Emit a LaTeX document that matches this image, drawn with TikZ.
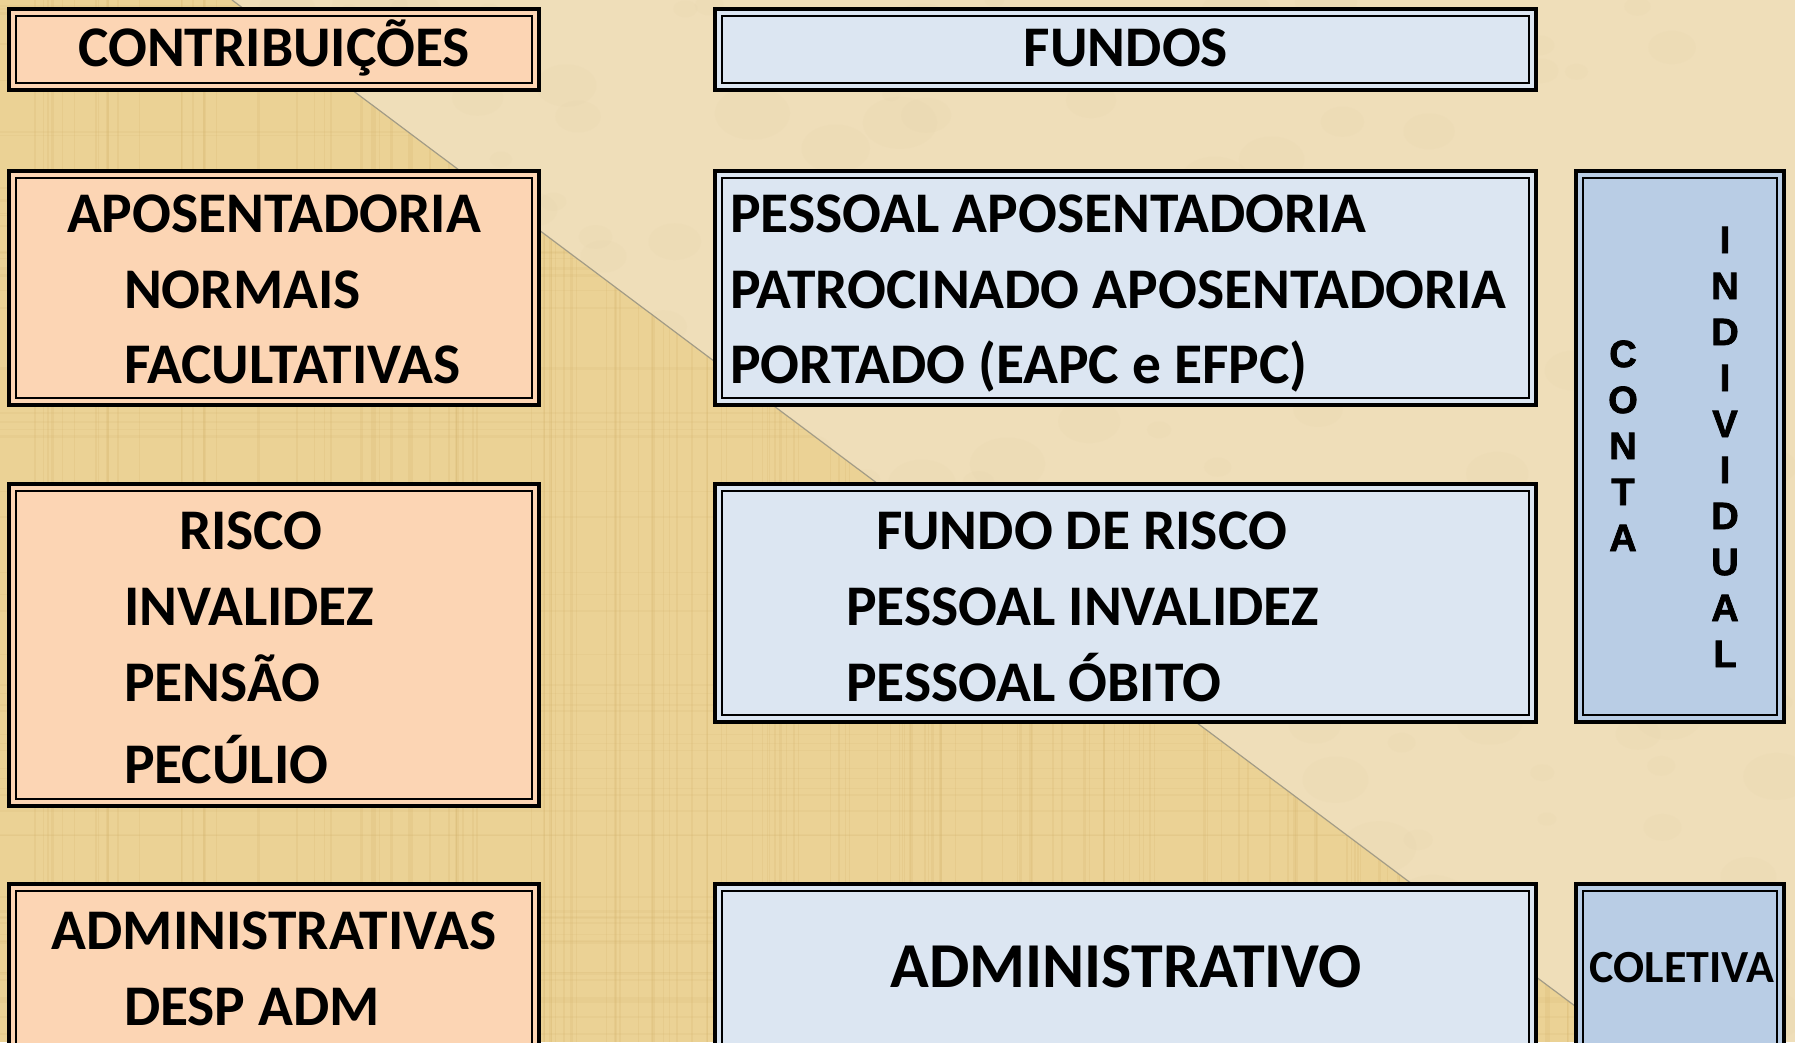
\documentclass[tikz,border=0pt]{standalone}
\usepackage{fontspec}
\setmainfont{Carlito}
\newfontfamily\arialfont{Liberation Sans}[UprightFont={* Bold}, UprightFeatures={FakeBold=2}]
\definecolor{peach}{HTML}{FCD5B4}
\definecolor{lblue}{HTML}{DCE6F2}
\definecolor{cblue}{HTML}{B9CDE5}
\definecolor{papyrus}{HTML}{EBD295}
\definecolor{papyrusdark}{HTML}{D2B26C}
\definecolor{parch}{HTML}{EFDEB9}
\definecolor{parchdark}{HTML}{D9C08F}
\definecolor{seam}{HTML}{A39C86}
\tikzset{
  boxst/.style={draw=black, line width=4pt, inner sep=0pt, outer sep=0pt},
  innerline/.style={draw=black, line width=1.8pt},
  txt/.style={font=\fontsize{57.5}{60}\selectfont\bfseries, inner sep=0pt, outer sep=0pt},
  bigtxt/.style={font=\fontsize{64}{68}\selectfont\bfseries, inner sep=0pt, outer sep=0pt},
  coltxt/.style={font=\fontsize{46}{50}\selectfont\bfseries, inner sep=0pt, outer sep=0pt},
  vtxt/.style={font=\arialfont\fontsize{38}{42}\selectfont, inner sep=0pt, outer sep=0pt, anchor=base},
}
\newcommand\mybox[6]{%
  \pgfmathsetmacro\mybw{#4-#2-4}%
  \pgfmathsetmacro\mybh{#5-#3-4}%
  \node[boxst, fill=#6, minimum width=\mybw pt, minimum height=\mybh pt] (#1) at ({(#2+#4)/2},{(#3+#5)/2}) {};
  \draw[innerline] ([xshift=7pt,yshift=-7pt]#1.north west) rectangle ([xshift=-7pt,yshift=7pt]#1.south east);
}
\begin{document}
\begin{tikzpicture}[x=1pt, y=-1pt]
\useasboundingbox (0,0) rectangle (1795,1042);
\clip (0,0) rectangle (1795,1042);
% background
\fill[parch] (0,0) rectangle (1795,1042);
\pgfmathsetseed{11}
\begin{scope}
  \clip (232,0) -- (1795,0) -- (1795,1042) -- (1623,1042) -- cycle;
  \foreach \i in {1,...,260} {
    \pgfmathsetmacro\xx{rnd*1795}
    \pgfmathsetmacro\yy{rnd*1042}
    \pgfmathsetmacro\rr{8+rnd*30}
    \fill[parchdark, opacity=0.05] (\xx,\yy) ellipse ({\rr pt} and {0.7*\rr pt});
  }
\end{scope}
\begin{scope}
  \clip (0,0) -- (232,0) -- (1623,1042) -- (0,1042) -- cycle;
  \fill[papyrus] (0,0) rectangle (1795,1042);
  \foreach \i in {1,...,160} {
    \pgfmathsetmacro\xx{rnd*1795}
    \pgfmathsetmacro\ww{0.6+rnd*2.5}
    \draw[papyrusdark, opacity=0.2, line width=\ww pt] (\xx,0) -- (\xx,1042);
  }
  \foreach \i in {1,...,60} {
    \pgfmathsetmacro\yy{rnd*1042}
    \pgfmathsetmacro\ww{0.6+rnd*2.5}
    \draw[papyrusdark, opacity=0.13, line width=\ww pt] (0,\yy) -- (1795,\yy);
  }
\end{scope}
\coordinate (seamtop) at (232,0);
\coordinate (seambot) at (1623,1042);
\draw[seam, line width=1.2pt] (seamtop) -- (seambot);

% boxes
\mybox{contrib}{7}{7}{541}{92}{peach}
\mybox{fundos}{713}{7}{1538}{92}{lblue}
\mybox{apos}{7}{169}{541}{407}{peach}
\mybox{pessoal}{713}{169}{1538}{407}{lblue}
\mybox{conta}{1574}{169}{1786}{724}{cblue}
\mybox{risco}{7}{482}{541}{808}{peach}
\mybox{fundorisco}{713}{482}{1538}{724}{lblue}
\mybox{adm}{7}{882}{541}{1070}{peach}
\mybox{administrativo}{713}{882}{1538}{1070}{lblue}
\mybox{coletiva}{1574}{882}{1786}{1070}{cblue}

% texts
\node[txt, anchor=base] (tcontrib) at (274,66) {CONTRIBUIÇÕES};
\node[txt, anchor=base] (tfundos) at (1126,66) {FUNDOS};

\node[txt, anchor=base] (ta1) at (274,232) {APOSENTADORIA};
\node[txt, anchor=base west] (ta2) at (124,308) {NORMAIS};
\node[txt, anchor=base west] (ta3) at (124,383) {FACULTATIVAS};

\node[txt, anchor=base west] (tp1) at (730,232) {PESSOAL APOSENTADORIA};
\node[txt, anchor=base west] (tp2) at (730,308) {PATROCINADO APOSENTADORIA};
\node[txt, anchor=base west] (tp3) at (730,383) {PORTADO (EAPC e EFPC)};

\node[txt, anchor=base west] (tr1) at (179,549) {RISCO};
\node[txt, anchor=base west] (tr2) at (124,625) {INVALIDEZ};
\node[txt, anchor=base west] (tr3) at (124,701) {PENSÃO};
\node[txt, anchor=base west] (tr4) at (124,783) {PECÚLIO};

\node[txt, anchor=base west] (tf1) at (876,549) {FUNDO DE RISCO};
\node[txt, anchor=base west] (tf2) at (846,625) {PESSOAL INVALIDEZ};
\node[txt, anchor=base west] (tf3) at (846,701) {PESSOAL ÓBITO};

\node[txt, anchor=base] (tad1) at (274,949) {ADMINISTRATIVAS};
\node[txt, anchor=base west] (tad2) at (124,1025) {DESP ADM};

\node[bigtxt, anchor=base] (tadm) at (1126,987) {ADMINISTRATIVO};
\node[coltxt, anchor=base] (tcol) at (1682,982) {COLETIVA};

% vertical letters
\foreach \l [count=\k from 0] in {C,O,N,T,A} {
  \node[vtxt] (c\k) at (1623,{367+46*\k}) {\l};
}
\foreach \l [count=\k from 0] in {I,N,D,I,V,I,D,U,A,L} {
  \node[vtxt] (i\k) at (1725,{253+46*\k}) {\l};
}
\end{tikzpicture}
\end{document}
